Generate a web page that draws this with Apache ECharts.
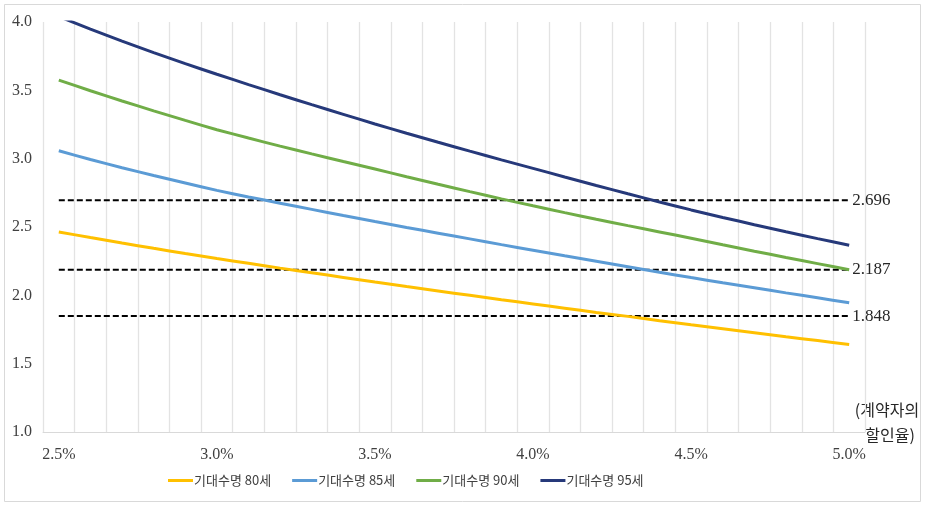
<!DOCTYPE html>
<html>
<head>
<meta charset="utf-8">
<script src="https://cdn.jsdelivr.net/npm/echarts@6/dist/echarts.min.js"></script>
<style>
html,body{margin:0;padding:0;background:#fff;}
#chart{width:925px;height:507px;}
</style>
</head>
<body>
<div id="chart"></div>
<script>
const categories = ['2.5%','2.6%','2.7%','2.8%','2.9%','3.0%','3.1%','3.2%','3.3%','3.4%','3.5%','3.6%','3.7%','3.8%','3.9%','4.0%','4.1%','4.2%','4.3%','4.4%','4.5%','4.6%','4.7%','4.8%','4.9%','5.0%'];
const seriesNames = ['기대수명 80세','기대수명 85세','기대수명 90세','기대수명 95세'];
const life80 = [2.464,2.423,2.383,2.344,2.306,2.269,2.234,2.199,2.165,2.131,2.097,2.064,2.032,2.000,1.968,1.937,1.906,1.875,1.846,1.814,1.784,1.755,1.726,1.697,1.669,1.641];
const life85 = [3.058,2.994,2.934,2.877,2.822,2.768,2.720,2.674,2.629,2.584,2.540,2.497,2.455,2.413,2.371,2.330,2.289,2.249,2.209,2.169,2.130,2.092,2.055,2.018,1.982,1.946];
const life90 = [3.575,3.497,3.422,3.350,3.280,3.212,3.151,3.092,3.035,2.979,2.924,2.868,2.813,2.759,2.706,2.655,2.605,2.557,2.510,2.464,2.418,2.370,2.323,2.277,2.232,2.187];
const life95 = [4.040,3.948,3.860,3.776,3.695,3.618,3.542,3.468,3.395,3.324,3.254,3.186,3.120,3.055,2.991,2.929,2.866,2.804,2.743,2.683,2.625,2.570,2.517,2.465,2.415,2.367];
const refValues = [2.696, 2.187, 1.848];
const refLabels = ['2.696','2.187','1.848'];
const yTicks = [1.0, 1.5, 2.0, 2.5, 3.0, 3.5, 4.0];
const axisNoteLines = ['(계약자의', '할인율)'];

const colors = ['#FFC000','#5B9BD5','#70AD47','#26397A'];
const serif = '"Liberation Serif", "Noto Sans CJK KR", serif';
const korean = '"Noto Sans CJK KR", "Liberation Serif", sans-serif';

const dataSets = [life80, life85, life90, life95];
const series = dataSets.map((d, i) => ({
  name: seriesNames[i],
  type: 'line',
  data: d,
  symbol: 'none',
  smooth: 0.2,
  clip: true,
  z: 3,
  lineStyle: { color: colors[i], width: 3 },
  itemStyle: { color: colors[i] }
}));
refValues.forEach((v, k) => {
  series.push({
    name: 'ref' + k,
    type: 'line',
    data: categories.map(() => v),
    symbol: 'none',
    z: 2,
    silent: true,
    lineStyle: { color: '#000', width: 2, type: [6, 3] },
    itemStyle: { color: '#000' },
    endLabel: {
      show: true,
      distance: 3,
      formatter: () => refLabels[k],
      fontFamily: serif,
      fontSize: 17,
      color: '#262626'
    }
  });
});

const chart = echarts.init(document.getElementById('chart'), null, { renderer: 'canvas' });
chart.setOption({
  animation: false,
  backgroundColor: '#fff',
  graphic: [
    { type: 'rect', shape: { x: 4.5, y: 4.5, width: 916, height: 497 }, style: { fill: 'none', stroke: '#d9d9d9', lineWidth: 1 }, z: -1 },
    { type: 'text', x: 887, y: 410, style: { text: axisNoteLines[0], font: '16px ' + korean, fill: '#262626', align: 'center', verticalAlign: 'middle' } },
    { type: 'text', x: 890, y: 435, style: { text: axisNoteLines[1], font: '16px ' + korean, fill: '#262626', align: 'center', verticalAlign: 'middle' } }
  ],
  grid: { left: 43, right: 60, top: 22, bottom: 75, containLabel: false },
  legend: {
    data: seriesNames,
    bottom: 15,
    left: 163,
    itemWidth: 25,
    itemHeight: 3,
    itemGap: 21,
    icon: 'rect',
    textStyle: { fontFamily: korean, fontSize: 13, color: '#404040', padding: [0,0,0,-4] }
  },
  xAxis: {
    type: 'category',
    data: categories,
    boundaryGap: true,
    axisLine: { show: true, lineStyle: { color: '#d9d9d9', width: 1 } },
    axisTick: { show: false },
    axisLabel: { interval: 4, fontFamily: serif, fontSize: 16, color: '#404040', margin: 15 },
    splitLine: { show: true, interval: 0, lineStyle: { color: '#e3e3e3', width: 1.3 } }
  },
  yAxis: {
    type: 'value',
    min: 1.0,
    max: 4.0,
    interval: 0.5,
    axisLine: { show: false },
    axisTick: { show: false },
    splitLine: { show: false },
    axisLabel: { fontFamily: serif, fontSize: 16, color: '#404040', margin: 11, formatter: v => yTicks.includes(v) ? v.toFixed(1) : '' }
  },
  series: series
});
</script>
</body>
</html>
